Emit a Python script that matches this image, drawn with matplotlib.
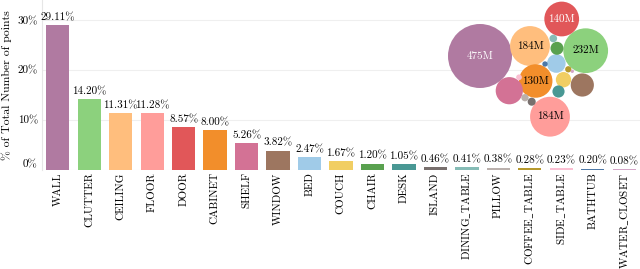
import matplotlib
matplotlib.use("Agg")
from matplotlib import pyplot as plt
from matplotlib.patches import Circle
import numpy as np

# share of total number of points per class (%)
categories = ['WALL', 'CLUTTER', 'CEILING', 'FLOOR', 'DOOR', 'CABINET', 'SHELF',
              'WINDOW', 'BED', 'COUCH', 'CHAIR', 'DESK', 'ISLAND', 'DINING_TABLE',
              'PILLOW', 'COFFEE_TABLE', 'SIDE_TABLE', 'BATHTUB', 'WATER_CLOSET']
percent = [29.11, 14.20, 11.31, 11.28, 8.57, 8.00, 5.26, 3.82, 2.47, 1.67, 1.20,
           1.05, 0.46, 0.41, 0.38, 0.28, 0.23, 0.20, 0.08]
# number of points (millions) for the bubble chart
points_m = [475, 232, 184, 184, 140, 130, 85.8, 62.3, 40.3, 27.3, 19.6, 17.1,
            7.5, 6.7, 6.2, 4.6, 3.8, 3.3, 1.3]
bubble_labels = ['475M', '232M', '184M', '184M', '140M', '130M']

colors = ['#b07aa1', '#8cd17d', '#ffbe7d', '#ff9d9a', '#e15759', '#f28e2b',
          '#d37295', '#9d7660', '#a0cbe8', '#f1ce63', '#59a14f', '#499894',
          '#79706e', '#86bcb6', '#bab0ac', '#b6992d', '#fabfd2', '#4e79a7',
          '#d4a6c8']
# packed-bubble layout (pixel centres in the 640x269 image)
bubble_xy = [(480, 56), (585.7, 50.7), (530, 46), (550, 116.7), (561.7, 19),
             (535.7, 81), (509.3, 90.7), (582.3, 85), (556.3, 63.5), (563.5, 79.7),
             (557, 48.3), (558.5, 91.5), (531.7, 101.7), (553.3, 38.5), (525, 97.7),
             (568.3, 69.3), (519, 77.3), (545, 64), (572.3, 71.3)]

plt.rcParams['font.family'] = ['cmr10', 'DejaVu Serif']
plt.rcParams['mathtext.fontset'] = 'cm'
plt.rcParams['axes.formatter.use_mathtext'] = True

fig = plt.figure(figsize=(6.4, 2.69), dpi=100)
ax = fig.add_axes([42 / 640, (269 - 169.5) / 269, 598 / 640, 169.5 / 269])

x = np.arange(len(categories))
ax.bar(x, percent, width=0.74, color=colors, zorder=2)
for xi, p in zip(x, percent):
    ax.annotate('%.2f%%' % p, (xi, p), xytext=(0, 2), textcoords='offset points',
                ha='center', va='bottom', fontsize=8)

ax.set_xlim(-0.5, len(categories) - 0.5)
ax.set_ylim(0, 34.1)
ax.set_yticks([0, 10, 20, 30])
ax.set_yticklabels(['0%', '10%', '20%', '30%'], fontsize=8)
ax.get_yticklabels()[0].set_va('bottom')
ax.set_xticks(x)
# cmr10 has no underscore glyph, so take it from mathtext
ax.set_xticklabels([c.replace('_', r'$\_$') for c in categories],
                   rotation=90, fontsize=8)
ax.tick_params(axis='y', length=0, pad=3)
ax.tick_params(axis='x', length=0, pad=2)
ax.set_ylabel('% of Total Number of points', fontsize=8.5, labelpad=4)
ax.grid(axis='y', color='#efefef', linewidth=0.8, zorder=0)
for s in ['top', 'right', 'bottom']:
    ax.spines[s].set_visible(False)
ax.spines['left'].set_color('#e6e6e6')

# bubble chart overlay, radius ~ sqrt(points)
bx = fig.add_axes([0, 0, 1, 1])
bx.set_xlim(0, 640)
bx.set_ylim(269, 0)
bx.axis('off')
scale = 32 / np.sqrt(points_m[0])
for i, (v, c, (cx, cy)) in enumerate(zip(points_m, colors, bubble_xy)):
    bx.add_patch(Circle((cx, cy), scale * np.sqrt(v), color=c, lw=0))
    if i < len(bubble_labels):
        tc = 'white' if i in (0, 4) else 'black'
        bx.text(cx, cy, bubble_labels[i], ha='center', va='center',
                fontsize=8, color=tc)

fig.savefig('out.png', dpi=100)
